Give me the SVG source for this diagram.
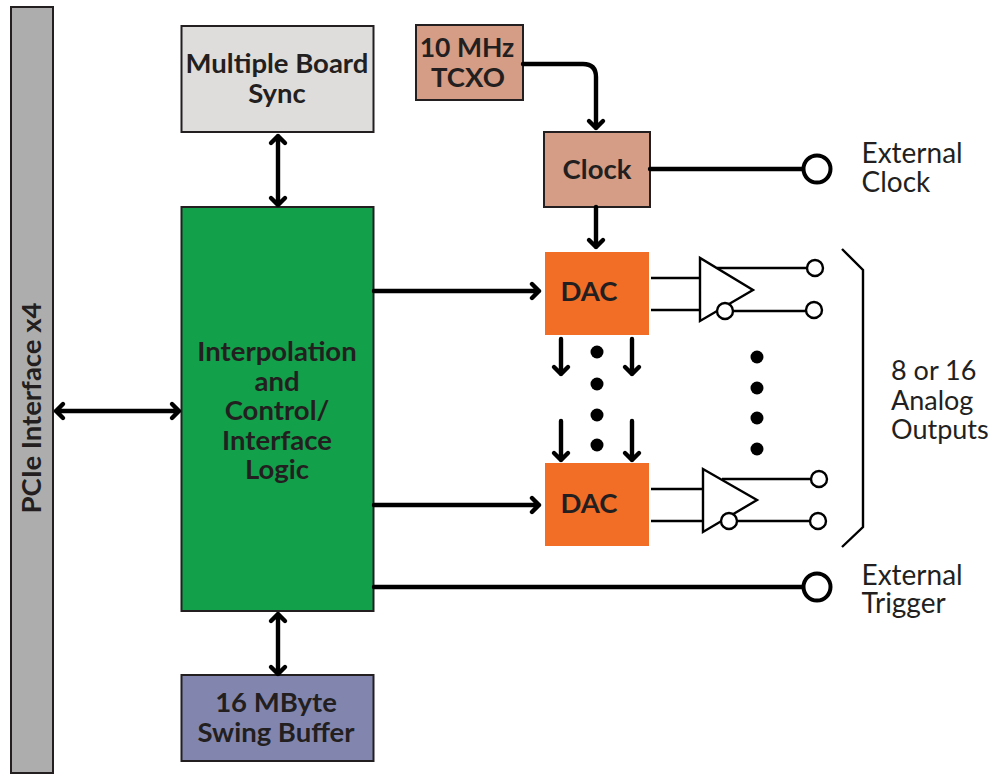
<svg xmlns="http://www.w3.org/2000/svg" width="1006" height="774" viewBox="0 0 1006 774">
<style>
text{font-family:Lato,"Liberation Sans",sans-serif;fill:#231f20;text-anchor:middle}
.b{font-weight:700;font-size:27.500px}
.r{font-size:28px;text-anchor:start}
.c{font-size:27px;text-anchor:start}
.box{stroke:#231f20;stroke-width:2}
.w{fill:none;stroke:#000;stroke-width:4.400;stroke-linecap:round;stroke-linejoin:round}
.t{fill:none;stroke:#000;stroke-width:2.400}
.o{fill:#fff;stroke:#000;stroke-width:2.400}
.O{fill:#fff;stroke:#000;stroke-width:4}
</style>
<rect width="1006" height="774" fill="#fff"/>
<g id="pcie"><rect class="box" x="11" y="7" width="42" height="766" fill="#adadad"/><text class="b" transform="translate(41 408) rotate(-90)">PCIe Interface x4</text></g>
<g id="sync"><rect class="box" x="181.500" y="26" width="192" height="106" fill="#dedddc"/><text class="b" y="73"><tspan x="277">Multiple Board</tspan><tspan x="277" y="103">Sync</tspan></text></g>
<g id="tcxo"><rect class="box" x="416" y="25" width="107" height="75" fill="#d59d85"/><text class="b" y="57"><tspan x="467" font-size="26.500">10 MHz</tspan><tspan x="468" y="87">TCXO</tspan></text></g>
<g id="clock"><rect class="box" x="544" y="132" width="106" height="75" fill="#d59d85"/><text class="b" x="597" y="179">Clock</text></g>
<g id="logic"><rect class="box" x="181.500" y="207" width="192" height="404" fill="#12a04b"/><text class="b" y="361"><tspan x="277">Interpolation</tspan><tspan x="277" y="391">and</tspan><tspan x="277" y="420">Control/</tspan><tspan x="277" y="450">Interface</tspan><tspan x="277" y="479">Logic</tspan></text></g>
<g id="swing"><rect class="box" x="181.500" y="675" width="192" height="86" fill="#8286ae"/><text class="b" y="712"><tspan x="276">16 MByte</tspan><tspan x="276" y="742">Swing Buffer</tspan></text></g>
<g id="dac1"><rect x="545" y="252" width="104" height="83" fill="#f26d26"/><text class="b" x="589" y="301">DAC</text></g>
<g id="dac2"><rect x="545" y="463" width="104" height="83" fill="#f26d26"/><text class="b" x="589" y="513">DAC</text></g>
<g id="connectors">
<path class="w" d="M523 64H583Q596 64 596 77V128M589 121l7 7 7-7"/>
<path class="w" d="M596 207V247M589 240l7 7 7-7"/>
<path class="w" d="M650 169H803"/>
<path class="w" d="M374 587H803"/>
<path class="w" d="M278 136V205M271 143l7-7 7 7M271 198l7 7 7-7"/>
<path class="w" d="M278 614V674M271 621l7-7 7 7M271 667l7 7 7-7"/>
<path class="w" d="M56 411H179M63 404l-7 7 7 7M172 404l7 7-7 7"/>
<path class="w" d="M374 291H539M532 284l7 7-7 7"/>
<path class="w" d="M374 505H539M532 498l7 7-7 7"/>
<path class="w" d="M561 339V374M554 367l7 7 7-7"/>
<path class="w" d="M632 339V374M625 367l7 7 7-7"/>
<path class="w" d="M561 421V460M554 453l7 7 7-7"/>
<path class="w" d="M632 421V460M625 453l7 7 7-7"/>
<path class="t" d="M651 278H700M651 310H700M717 268H808M733 311H808"/>
<path class="t" d="M651 489H703M651 521H703M722 479H811M737 521H810"/>
<path class="t" d="M842 249L863 270V527L842 547"/>
</g>
<g id="amp1"><path class="o" d="M700 258V321L753 290Z"/><circle class="o" cx="725" cy="311" r="8"/><circle class="o" cx="815" cy="268" r="8"/><circle class="o" cx="814" cy="310" r="8"/></g>
<g id="amp2"><path class="o" d="M703 469V532L757 500Z"/><circle class="o" cx="729" cy="521" r="8"/><circle class="o" cx="819" cy="479" r="8"/><circle class="o" cx="818" cy="521" r="8"/></g>
<g id="port-clock"><circle class="O" cx="817" cy="169" r="13.500"/><text class="r" y="163"><tspan x="861.500">External</tspan><tspan x="861.500" y="192">Clock</tspan></text></g>
<g id="port-trigger"><circle class="O" cx="817" cy="587" r="13.500"/><text class="r" y="585"><tspan x="861.500">External</tspan><tspan x="861.500" y="613">Trigger</tspan></text></g>
<g id="outputs-label"><text class="c" y="380"><tspan x="891">8 or 16</tspan><tspan x="891" y="410">Analog</tspan><tspan x="891" y="439">Outputs</tspan></text></g>
<g id="dots" fill="#000"><circle cx="597" cy="352" r="6.500"/><circle cx="597" cy="384" r="6.500"/><circle cx="597" cy="415" r="6.500"/><circle cx="597" cy="445" r="6.500"/><circle cx="757" cy="357" r="6.500"/><circle cx="757" cy="388" r="6.500"/><circle cx="757" cy="418" r="6.500"/><circle cx="757" cy="449" r="6.500"/></g>
</svg>
